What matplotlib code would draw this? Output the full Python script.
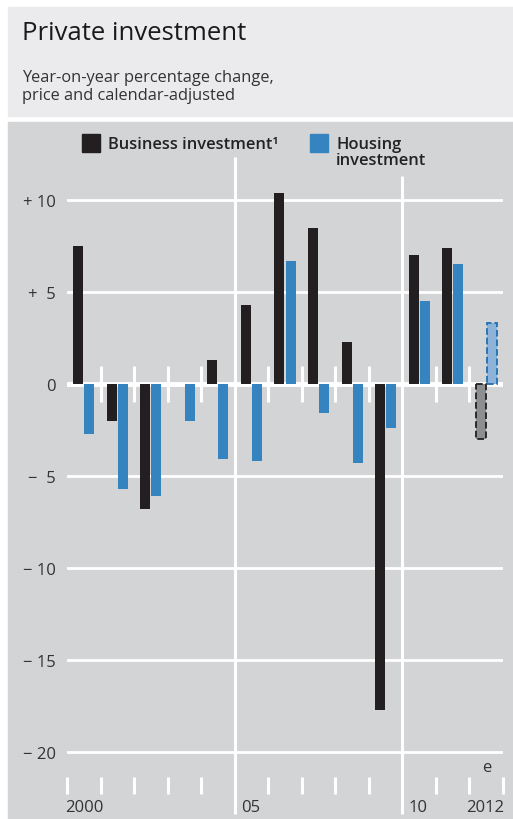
import numpy as np
import matplotlib
matplotlib.use('Agg')
import matplotlib.pyplot as plt
from matplotlib.patches import Rectangle

plt.rcParams['font.family'] = ['Open Sans', 'DejaVu Sans']

W, H = 513, 820

# --- data ---
years = np.arange(2000, 2013)
business = [7.5, -2.0, -6.8, 0.0, 1.3, 4.3, 10.4, 8.5, 2.3, -17.7, 7.0, 7.4, -3.0]
housing = [-2.7, -5.7, -6.1, -2.0, -4.1, -4.2, 6.7, -1.6, -4.3, -2.4, 4.5, 6.5, 3.3]
yticks = [10, 5, 0, -5, -10, -15, -20]
ytick_labels = ['+ 10', '+  5', '0', '−  5', '− 10', '− 15', '− 20']

BLACK = '#231f20'
BLUE = '#3584bf'
PANEL_TOP = '#ebebed'
PANEL = '#d3d4d6'
TXT = '#333333'


def fx(x):
    return x / W


def fy(y):
    return 1 - y / H


fig = plt.figure(figsize=(W / 100, H / 100), dpi=100)

# background panels
fig.patches.append(Rectangle((fx(8), fy(117)), fx(W - 8), (117 - 8) / H,
                             transform=fig.transFigure, color=PANEL_TOP, zorder=-2))
fig.patches.append(Rectangle((fx(8), 0), fx(W - 8), (H - 123) / H,
                             transform=fig.transFigure, color=PANEL, zorder=-2))

fig.text(fx(22), fy(33), 'Private investment', fontsize=18.5, color='#1a1a1a',
         va='center', ha='left')
fig.text(fx(22), fy(87), 'Year-on-year percentage change,\nprice and calendar-adjusted',
         fontsize=11.8, color=TXT, va='center', ha='left', linespacing=1.15)

# axes: x from 67 to 503 px, 0 at y=385, 18.4 px per unit
ax_top, ax_bot = 140, 800
ax = fig.add_axes([fx(67), fy(ax_bot), (503 - 67) / W, (ax_bot - ax_top) / H])
ax.set_zorder(1)
ax.set_facecolor('none')
scale = 18.4
ax.set_ylim(-(ax_bot - 385) / scale, (385 - ax_top) / scale)
ax.set_xlim(1999.5, 2012.5)
for s in ax.spines.values():
    s.set_visible(False)

# gridlines
for v in yticks:
    ax.axhline(v, color='white', lw=3.5 if v == 0 else 2.0, zorder=1)

# full-height year dividers for 2005 and 2010
ax.vlines(2004.5, -(815 - 385) / scale, (385 - 158) / scale, color='white', lw=2.2,
          clip_on=False, zorder=1)
ax.vlines(2009.5, -(815 - 385) / scale, (385 - 177) / scale, color='white', lw=2.2,
          clip_on=False, zorder=1)

# small year ticks
inner = [b for b in np.arange(2000.5, 2012.5) if b not in (2004.5, 2009.5)]
ax.vlines(inner, -1, 1, color='white', lw=2.2, zorder=1)
bottom = [b for b in np.arange(1999.5, 2013.5) if b not in (2004.5, 2009.5)]
ax.vlines(bottom, -(795 - 385) / scale, -(778 - 385) / scale, color='white', lw=2.2,
          clip_on=False, zorder=1)

# bars (2012 = estimate, dashed)
off, bw = 0.165, 0.3
ax.bar(years[:-1] - off, business[:-1], width=bw, color=BLACK, lw=0, zorder=3)
ax.bar(years[:-1] + off, housing[:-1], width=bw, color=BLUE, lw=0, zorder=3)
ax.bar(years[-1] - off, business[-1], width=bw, color='#8d8e90', edgecolor=BLACK,
       lw=1.3, ls='--', zorder=3)
ax.bar(years[-1] + off, housing[-1], width=bw, color='#8db3da', edgecolor='#1f6fb3',
       lw=1.3, ls='--', zorder=3)

ax.set_xticks([])
ax.set_yticks(yticks)
ax.set_yticklabels(ytick_labels, fontsize=12, color=TXT)
ax.tick_params(axis='y', length=0, pad=8)

# year labels
for x, s, ha in [(65, '2000', 'left'), (241, '05', 'left'), (409, '10', 'left'),
                 (504, '2012', 'right')]:
    fig.text(fx(x), fy(808), s, fontsize=12, color=TXT, ha=ha, va='center')
fig.text(fx(487), fy(768), 'e', fontsize=12, color=TXT, ha='center', va='center')

# legend
fig.patches.append(Rectangle((fx(82), fy(153)), 18 / W, 18 / H,
                             transform=fig.transFigure, color=BLACK, zorder=2))
fig.text(fx(108), fy(145), 'Business investment¹', fontsize=11.9, color='#222222',
         ha='left', va='center', fontweight='semibold')
fig.patches.append(Rectangle((fx(310), fy(153)), 18 / W, 18 / H,
                             transform=fig.transFigure, color=BLUE, zorder=2))
fig.text(fx(336), fy(153), 'Housing\ninvestment', fontsize=11.9, color='#222222',
         ha='left', va='center', fontweight='semibold', linespacing=1.05)

fig.savefig('out.png', dpi=100)
